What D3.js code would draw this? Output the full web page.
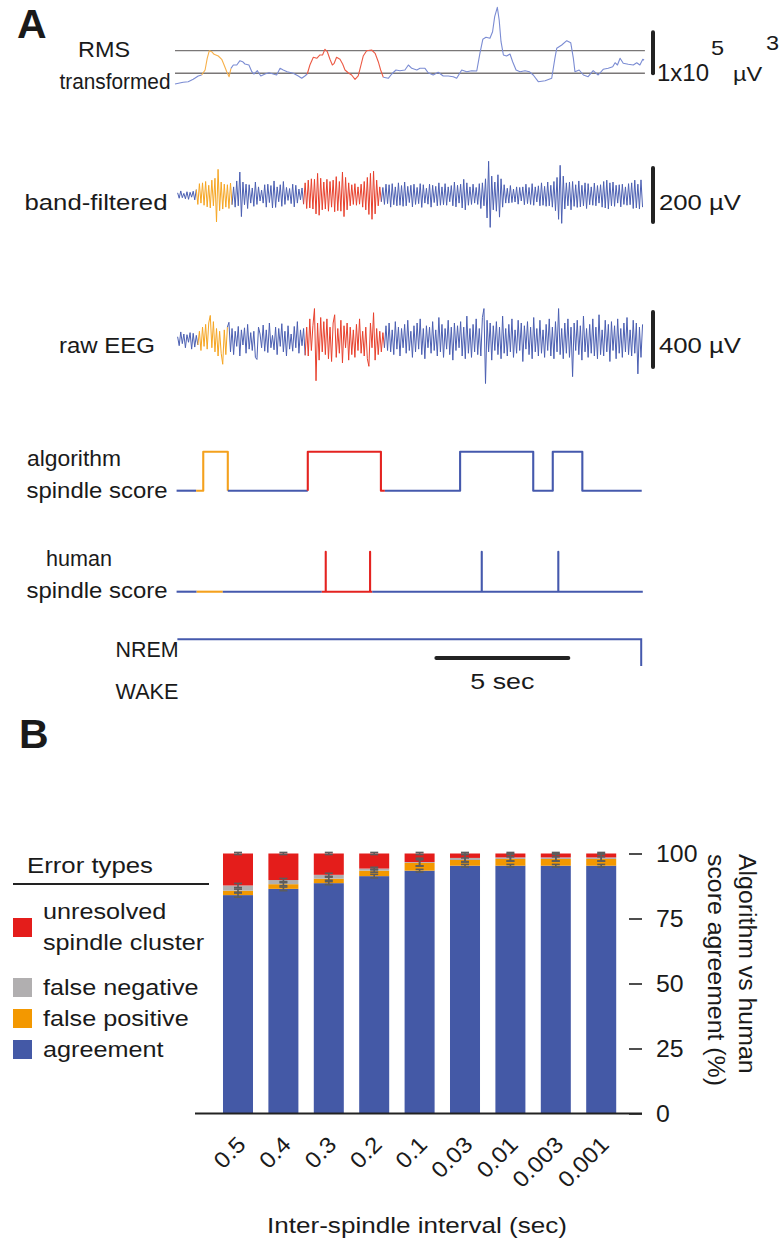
<!DOCTYPE html>
<html><head><meta charset="utf-8">
<script src="https://cdn.jsdelivr.net/npm/d3@7"></script>
<style>
body{margin:0;background:#fff}
text{font-family:"Liberation Sans",Arial,sans-serif;fill:#1a1a1a}
</style>
</head><body>
<svg id="c" width="780" height="1244" xmlns="http://www.w3.org/2000/svg"></svg>
<script>
// ---------------- DATA: panel A ----------------
// RMS transformed trace: [time (s), value (x10^4 µV^3)]
const rmsTrace = [[0,0.98],[0.31,1.39],[0.50,1.54],[0.69,2.12],[0.88,2.93],[1.01,3.17],[1.14,4.39],[1.22,7.24],[1.30,9.10],[1.39,8.85],
[1.48,8.22],[1.64,7.80],[1.77,7.00],[1.86,5.61],[1.96,3.98],[2.05,2.76],[2.12,4.80],[2.21,5.61],[2.34,5.61],[2.46,6.66],
[2.56,6.41],[2.65,5.85],[2.80,5.61],[2.91,3.98],[2.99,3.41],[3.12,4.22],[3.25,2.93],[3.41,3.41],[3.56,3.73],[3.72,3.41],
[3.85,3.17],[3.98,4.80],[4.10,4.39],[4.25,3.98],[4.48,3.59],[4.67,2.93],[4.80,2.37],[4.92,2.93],[5.01,3.41],[5.11,5.61],
[5.24,7.49],[5.37,7.24],[5.49,8.05],[5.59,8.05],[5.68,9.44],[5.77,8.85],[5.87,7.00],[5.96,5.61],[6.03,6.02],[6.12,7.49],
[6.25,7.00],[6.35,5.85],[6.44,4.39],[6.56,3.73],[6.69,3.17],[6.82,2.12],[6.94,2.93],[7.03,5.20],[7.13,7.80],[7.26,9.10],
[7.45,9.27],[7.58,8.46],[7.70,6.41],[7.79,4.39],[7.89,2.61],[8.08,2.37],[8.21,3.41],[8.37,4.39],[8.52,4.22],[8.71,4.39],
[8.84,5.61],[8.97,4.80],[9.16,4.39],[9.28,4.80],[9.47,4.80],[9.59,3.73],[9.78,3.17],[9.97,3.83],[10.16,2.93],[10.35,2.93],
[10.54,2.76],[10.67,2.37],[10.86,4.39],[11.05,3.98],[11.24,4.22],[11.43,4.15],[11.55,8.46],[11.66,11.88],[11.78,12.37],[11.93,12.12],
[12.03,13.73],[12.11,17.39],[12.21,19.68],[12.28,16.59],[12.35,11.29],[12.44,8.05],[12.56,7.80],[12.69,8.29],[12.79,6.41],[12.92,4.39],
[13.07,3.98],[13.26,4.22],[13.42,3.98],[13.57,3.17],[13.76,1.54],[14.02,1.78],[14.27,2.37],[14.39,7.24],[14.46,9.68],[14.65,10.49],
[14.84,11.54],[14.99,11.05],[15.09,7.24],[15.15,3.98],[15.31,4.39],[15.47,3.17],[15.65,2.76],[15.84,4.22],[16.03,3.17],[16.22,4.56],
[16.41,4.80],[16.58,5.20],[16.67,6.17],[16.76,5.61],[16.86,7.24],[16.98,6.02],[17.17,5.78],[17.36,5.61],[17.49,6.17],[17.61,5.61],
[17.72,7.00],[17.77,6.83]];
const rmsThresholds = [3.6, 9.1];

// band-filtered and raw EEG: evenly sampled (µV)
const sampleStart = 0.1, sampleStep = 0.0589;
const bandValues = [8,-12,15,-10,6,-14,12,-16,10,-8,14,-18,20,
-35,42,-30,45,-38,50,-44,36,-48,55,-40,62,-100,95,-58,48,-52,40,-45,38,-50,44,-36,
30,-45,52,-40,85,-80,48,-36,40,-50,38,-30,26,-42,48,-35,30,-22,18,-30,38,-45,40,-28,35,-48,52,-46,30,-25,38,-42,50,-35,28,-20,24,-32,40,-44,36,-30,22,-18,26,-34,
45,-50,55,-48,60,-52,58,-70,80,-75,62,-55,48,-52,58,-60,50,-45,55,-62,68,-58,50,-60,85,-80,65,-55,45,-40,38,-35,42,-38,30,-34,40,-45,50,-55,65,-72,80,-90,88,-70,55,-40,30,-25,
28,-35,40,-32,38,-45,42,-36,30,-40,45,-38,35,-42,48,-40,32,-28,36,-44,40,-35,28,-32,42,-46,38,-30,25,-34,
40,-45,36,-28,32,-40,45,-38,30,-36,42,-38,30,-25,35,-40,48,-44,36,-30,40,-48,58,-55,45,-38,30,-35,40,-30,
28,-35,42,-50,45,-40,60,-85,125,-120,70,-55,48,-60,75,-82,60,-45,38,-30,25,-30,35,-28,22,-26,30,-34,28,-22,
30,-36,40,-32,28,-35,42,-38,30,-26,34,-40,45,-38,32,-42,48,-40,36,-45,50,-58,65,-90,110,-105,70,-52,45,-40,
48,-55,50,-42,38,-46,52,-44,36,-40,45,-50,42,-36,30,-38,44,-40,35,-30,38,-45,50,-48,55,-52,45,-40,48,-42,
36,-30,38,-44,40,-35,30,-38,42,-36,45,-50,55,-48,40,-52,56,-45];
const rawValues = [20,-45,55,-30,40,-60,35,-20,50,-70,45,-55,30,
-40,60,-80,90,-50,110,-70,120,175,-60,130,-90,80,-120,60,-100,-180,70,-110,90,
125,-90,80,-110,60,-50,95,-120,70,-40,85,-100,110,-70,50,-80,60,-130,-145,90,40,-60,105,-85,70,-95,120,-60,30,-75,90,-110,80,-50,115,-90,60,-120,100,-70,40,-85,95,-60,130,-100,70,-45,80,-115,
90,-120,150,-80,100,225,-300,120,-150,160,-90,130,-110,150,-140,90,-160,120,180,-130,80,-100,140,-170,100,-60,120,-150,90,-110,70,-130,110,-80,150,-100,60,-120,90,-140,-195,120,-60,195,-150,80,-110,60,-90,50,
-60,100,-80,120,-90,70,-110,130,-70,90,-120,80,-60,110,-100,140,-80,60,-130,100,-90,120,-70,150,-110,80,-140,100,-60,90,
-100,130,-80,70,-120,160,-90,110,-130,80,-70,140,-110,90,-150,120,-80,100,-60,130,-120,90,-140,170,-100,80,-130,110,-90,150,
-110,80,-120,160,225,-320,140,-90,120,-150,100,-80,130,-110,90,-140,170,-100,80,-120,110,-90,150,-130,70,-100,140,-80,120,-160,
100,-70,130,-110,90,-140,160,-90,80,-120,140,-100,70,-130,110,-80,150,-120,90,-140,130,-90,225,-110,80,-140,120,-100,150,-130,
90,-270,120,-80,140,-110,100,-150,170,-90,80,-130,110,-100,150,-120,90,-140,180,-110,70,-120,140,-90,110,-160,130,-80,100,-140,
150,-100,80,-130,120,-90,160,-110,70,-120,140,-100,120,-250,90,-130,110];

// coloured (scored) time spans per trace: [start, end] in s
const rmsOrange = [1.0, 2.1],  rmsRed = [5.0, 7.85];
const bandOrange = [0.83, 2.16], bandRed = [4.85, 7.8];
const rawOrange = [0.87, 2.0],  rawRed = [4.94, 7.95];

// algorithm spindle score (time s, score 0/1)
const algoScore = [[0.06,0],[0.8,0],[1.07,0],[1.07,1],[2.0,1],[2.0,0],[5.03,0],[5.03,1],[7.8,1],[7.8,0],[7.95,0],
[10.8,0],[10.8,1],[13.57,1],[13.57,0],[14.31,0],[14.31,1],[15.43,1],[15.43,0],[17.68,0]];
const algoOrange = [0.8, 2.0], algoRed = [5.03, 7.95];
// human spindle score (marks)
const humanScore = [[0.06,0],[0.82,0],[1.81,0],[5.56,0],[5.71,0],[5.71,1],[5.71,0],[7.39,0],[7.39,1],[7.39,0],[7.47,0],
[11.62,0],[11.62,1],[11.62,0],[14.52,0],[14.52,1],[14.52,0],[17.72,0]];
const humanOrange = [0.82, 1.81], humanRed = [5.56, 7.47];
// hypnogram
const hypnogram = [[0.09,"NREM"],[17.66,"NREM"],[17.66,"WAKE"]];
const stages = ["NREM","WAKE"];
const timeBar = [9.9, 14.9]; // 5 sec

// ---------------- DATA: panel B ----------------
const categories = ["0.5","0.4","0.3","0.2","0.1","0.03","0.01","0.003","0.001"];
const agreement      = [84.0, 86.4, 88.6, 91.3, 93.4, 95.3, 95.3, 95.3, 95.3];
const falsePositive  = [1.7, 1.8, 1.7, 2.1, 3.0, 2.2, 2.6, 2.6, 2.6];
const falseNegative  = [2.0, 1.6, 1.5, 0.8, 0.3, 0.8, 0.6, 0.6, 0.6];
const unresolved     = [12.3, 10.2, 8.2, 5.8, 3.3, 1.7, 1.5, 1.5, 1.5];
const agreementErr   = [0.8, 0.7, 0.6, 0.7, 0.5, 0.5, 0.5, 0.5, 0.5];
const falsePosErr    = [0.6, 0.6, 0.6, 0.6, 1.2, 0.8, 0.8, 0.8, 0.8];
const falseNegErr    = [0.8, 0.6, 0.6, 0.5, 1.5, 1.4, 1.4, 1.4, 1.4];
const unresolvedErr  = [0.4, 0.4, 0.4, 0.4, 0.4, 0.4, 0.4, 0.4, 0.4];
const yTicks = [0, 25, 50, 75, 100];
const legendLabels = [["unresolved","spindle cluster"],["false negative"],["false positive"],["agreement"]];

// ---------------- DRAW ----------------
const C = {blue:"#4459a6", red:"#e41d1b", grey:"#b1afb0", orange:"#f39800",
           tBlue:"#4b5fb2", tOrange:"#f6a623", tRed:"#e8402c", rms:"#7b8cd3"};
const svg = d3.select("#c");
const FS = 22.5, SX = 1.12;
function txt(sel, s, x, y, o = {}) {
  const t = sel.append("text").attr("x", x).attr("y", y).text(s)
    .attr("font-size", o.size || FS).attr("text-anchor", o.anchor || "start");
  if (o.weight) t.attr("font-weight", o.weight);
  if (o.rotate !== undefined) t.attr("transform", `rotate(${o.rotate},${x},${y})`);
  if (o.len) {
    t.attr("textLength", o.len).attr("lengthAdjust", "spacingAndGlyphs");
    return t;
  }
  const sx = o.sx === undefined ? SX : o.sx;
  if (sx !== 1) {
    const L = t.node().getComputedTextLength();
    t.attr("textLength", L * sx).attr("lengthAdjust", "spacingAndGlyphs");
  }
  return t;
}

const xT = d3.scaleLinear().domain([0, 17.8]).range([175, 644.9]);

function inSpan(t, sp) { return t >= sp[0] - 1e-9 && t <= sp[1] + 1e-9; }
function coloredTrace(g, pts, yS, orange, red, colors, width) {
  const colorOf = t => inSpan(t, orange) ? colors[1] : inSpan(t, red) ? colors[2] : colors[0];
  const runs = [];
  for (let i = 1; i < pts.length; i++) {
    const c = colorOf((pts[i-1][0] + pts[i][0]) / 2);
    if (!runs.length || runs[runs.length-1].c !== c) runs.push({c, p:[pts[i-1]]});
    runs[runs.length-1].p.push(pts[i]);
  }
  const line = d3.line().x(d => xT(d[0])).y(d => yS(d[1]));
  runs.forEach(r => g.append("path").attr("d", line(r.p)).attr("fill","none")
    .attr("stroke", r.c).attr("stroke-width", width).attr("stroke-linejoin","round"));
}

// Panel label A
txt(svg, "A", 17, 38, {size: 41, weight: "bold", sx: 1});

// --- RMS ---
const yR = d3.scaleLinear().domain([0, 10]).range([88, 47]);
const gR = svg.append("g");
rmsThresholds.forEach(v => gR.append("line").attr("x1", xT(0)).attr("x2", xT(17.8))
  .attr("y1", yR(v)).attr("y2", yR(v)).attr("stroke", "#7a7777").attr("stroke-width", 1.3));
coloredTrace(gR, rmsTrace, yR, rmsOrange, rmsRed, [C.rms, "#f7b04a", "#ec5a45"], 1.1);
gR.append("line").attr("x1", 653).attr("x2", 653).attr("y1", yR(13.6)).attr("y2", yR(3.6))
  .attr("stroke", "#222").attr("stroke-width", 4).attr("stroke-linecap", "round");
txt(svg, "RMS", 104, 57, {anchor: "middle", len: 52});
txt(svg, "transformed", 115, 89, {anchor: "middle", len: 111});
txt(svg, "1x10", 657, 81, {size: 23, len: 52});
txt(svg, "5", 711, 55, {size: 21});
txt(svg, "µV", 733, 81, {size: 21});
txt(svg, "3", 766, 50, {size: 21});

// --- band-filtered ---
const bandPts = bandValues.map((v, i) => [sampleStart + i * sampleStep, v]);
const yB = d3.scaleLinear().domain([-100, 100]).range([222, 168]);
const gB = svg.append("g");
coloredTrace(gB, bandPts, yB, bandOrange, bandRed, [C.tBlue, C.tOrange, C.tRed], 1);
gB.append("line").attr("x1", 653).attr("x2", 653).attr("y1", yB(100)).attr("y2", yB(-100))
  .attr("stroke", "#222").attr("stroke-width", 4).attr("stroke-linecap", "round");
txt(svg, "band-filtered", 96, 210, {anchor: "middle", len: 143});
txt(svg, "200 µV", 659, 210, {len: 82});

// --- raw EEG ---
const rawPts = rawValues.map((v, i) => [sampleStart + i * sampleStep, v]);
const yW = d3.scaleLinear().domain([-200, 200]).range([367, 312]);
const gW = svg.append("g");
coloredTrace(gW, rawPts, yW, rawOrange, rawRed, [C.tBlue, C.tOrange, C.tRed], 1);
gW.append("line").attr("x1", 653).attr("x2", 653).attr("y1", yW(200)).attr("y2", yW(-200))
  .attr("stroke", "#222").attr("stroke-width", 4).attr("stroke-linecap", "round");
txt(svg, "raw EEG", 107, 353, {anchor: "middle", len: 96});
txt(svg, "400 µV", 659, 353, {len: 82});

// --- spindle scores ---
const scoreCols = ["#4559ad", "#f4a11d", "#e42320"];
const yA = d3.scaleLinear().domain([0, 1]).range([490.7, 451.7]);
coloredTrace(svg.append("g"), algoScore, yA, algoOrange, algoRed, scoreCols, 2.1);
txt(svg, "algorithm", 74, 466, {anchor: "middle", len: 94});
txt(svg, "spindle score", 97, 498, {anchor: "middle", len: 141});

const yH = d3.scaleLinear().domain([0, 1]).range([591.7, 551.7]);
coloredTrace(svg.append("g"), humanScore, yH, humanOrange, humanRed, scoreCols, 2.1);
txt(svg, "human", 79, 566, {anchor: "middle", len: 66});
txt(svg, "spindle score", 97, 598, {anchor: "middle", len: 141});

const yS = d3.scalePoint().domain(stages).range([639.3, 666]);
svg.append("path").attr("d", d3.line().x(d => xT(d[0])).y(d => yS(d[1]))(hypnogram))
  .attr("fill", "none").attr("stroke", "#4559ad").attr("stroke-width", 2);
txt(svg, "NREM", 147, 657, {anchor: "middle", len: 63});
txt(svg, "WAKE", 147, 699, {anchor: "middle", len: 63});
svg.append("line").attr("x1", xT(timeBar[0])).attr("x2", xT(timeBar[1])).attr("y1", 658).attr("y2", 658)
  .attr("stroke", "#222").attr("stroke-width", 4).attr("stroke-linecap", "round");
txt(svg, "5 sec", (xT(timeBar[0]) + xT(timeBar[1])) / 2, 689, {anchor: "middle", len: 64});

// ---------------- Panel B ----------------
txt(svg, "B", 19, 748, {size: 41, weight: "bold", sx: 1});
const x = d3.scaleBand().domain(categories).range([207.6, 631.6]).paddingInner(0.339).paddingOuter(0.339);
const y = d3.scaleLinear().domain([0, 100]).range([1113.5, 853.5]);
const rows = categories.map((c, i) => ({cat: c, agreement: agreement[i], falsePositive: falsePositive[i],
  falseNegative: falseNegative[i], unresolved: unresolved[i]}));
const keys = ["agreement", "falsePositive", "falseNegative", "unresolved"];
const fills = {agreement: C.blue, falsePositive: C.orange, falseNegative: C.grey, unresolved: C.red};
const errs = {agreement: agreementErr, falsePositive: falsePosErr, falseNegative: falseNegErr, unresolved: unresolvedErr};
const series = d3.stack().keys(keys)(rows);
const gBar = svg.append("g");
series.forEach(s => {
  gBar.selectAll(null).data(s).join("rect")
    .attr("x", d => x(d.data.cat)).attr("width", x.bandwidth())
    .attr("y", d => y(d[1])).attr("height", d => y(d[0]) - y(d[1]))
    .attr("fill", fills[s.key]);
});
// error bars
series.forEach(s => {
  s.forEach((d, i) => {
    const cx = x(d.data.cat) + x.bandwidth() / 2, e = errs[s.key][i];
    const top = Math.min(d[1], 100);
    const g = gBar.append("g").attr("stroke", "#5c5c5c").attr("stroke-width", 1.6);
    g.append("line").attr("x1", cx).attr("x2", cx).attr("y1", y(top + e)).attr("y2", y(top - e));
    [top + e, top - e].forEach(v => g.append("line").attr("x1", cx - 4).attr("x2", cx + 4).attr("y1", y(v)).attr("y2", y(v)));
  });
});
// baseline
svg.append("line").attr("x1", 195).attr("x2", 642).attr("y1", y(0)).attr("y2", y(0))
  .attr("stroke", "#222").attr("stroke-width", 1.8);
// right y axis
const yAx = svg.append("g").attr("transform", "translate(629,0)")
  .call(d3.axisRight(y).tickValues(yTicks).tickSize(13).tickPadding(15));
yAx.select(".domain").remove();
yAx.selectAll(".tick line").attr("stroke", "#222").attr("stroke-width", 1.6);
yAx.selectAll(".tick text").remove();
yTicks.forEach(v => txt(svg, String(v), 656, y(v) + 8.5, {size: 23, sx: 1.08}));
// axis title (rotated)
txt(svg, "Algorithm vs human", 739, 854, {size: 23, rotate: 90, sx: 1.08});
txt(svg, "score agreement (%)", 708, 854, {size: 23, rotate: 90, sx: 1.08});
// x tick labels
categories.forEach(c => {
  const cx = x(c) + x.bandwidth() / 2 + 9;
  txt(svg, c, cx, 1146, {size: 22.5, anchor: "end", rotate: -45, sx: 1.08});
});
txt(svg, "Inter-spindle interval (sec)", 417, 1233, {anchor: "middle", len: 300});

// legend
txt(svg, "Error types", 27, 873, {len: 126});
svg.append("line").attr("x1", 13).attr("x2", 209).attr("y1", 884).attr("y2", 884)
  .attr("stroke", "#222").attr("stroke-width", 1.8);
const legKeys = ["unresolved", "falseNegative", "falsePositive", "agreement"];
const legSqY = [918, 978, 1009, 1040];
legKeys.forEach((k, i) => {
  svg.append("rect").attr("x", 13).attr("y", legSqY[i]).attr("width", 19).attr("height", 19).attr("fill", fills[k]);
  const lines = legendLabels[i];
  if (lines.length === 2) {
    txt(svg, lines[0], 43, legSqY[i] + 1);
    txt(svg, lines[1], 43, legSqY[i] + 32);
  } else {
    txt(svg, lines[0], 43, legSqY[i] + 17);
  }
});
</script>
</body></html>
